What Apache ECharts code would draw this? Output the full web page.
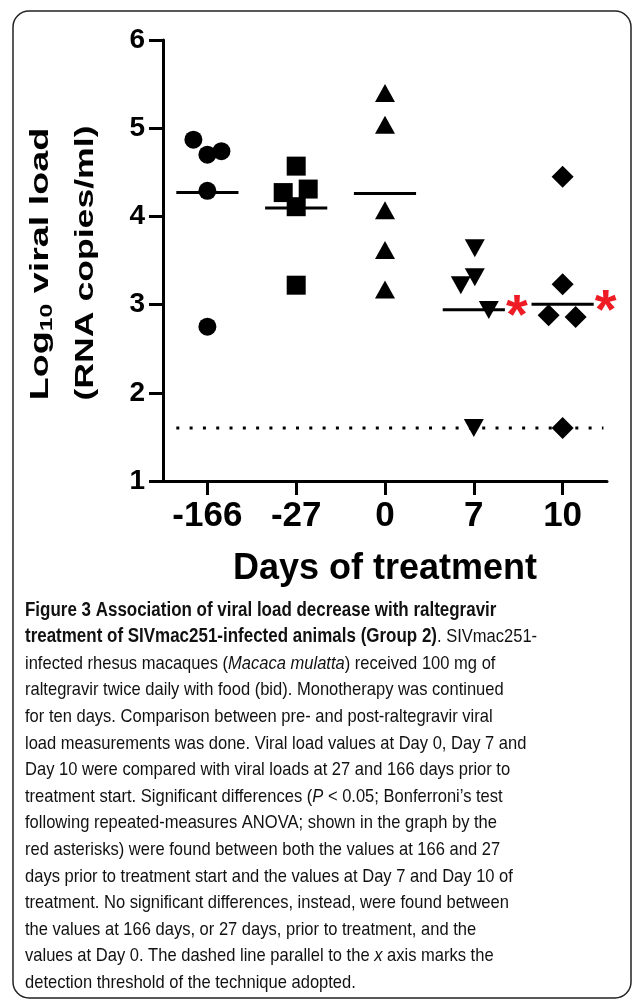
<!DOCTYPE html>
<html><head><meta charset="utf-8">
<script src="https://cdn.jsdelivr.net/npm/echarts@6/dist/echarts.min.js"></script>
<style>html,body{margin:0;padding:0;background:#fff}#c{width:633px;height:1001px}</style>
</head><body><div id="c"></div>
<script>
// ---- data ----
const categories = ['-166', '-27', '0', '7', '10'];
const dayMinus166 = [4.87, 4.70, 4.74, 4.29, 2.75];
const dayMinus27 = [4.57, 4.27, 4.31, 4.11, 3.22];
const day0 = [5.40, 5.04, 4.07, 3.62, 3.17];
const day7 = [3.64, 3.31, 3.22, 2.94, 1.60];
const day10 = [4.45, 3.23, 2.88, 2.86, 1.60];
const significant = [false, false, false, true, true];
const detectionThreshold = 1.6;
const yMin = 1, yMax = 6, yInterval = 1;

// ---- styling ----
const groups = [dayMinus166, dayMinus27, day0, day7, day10];
const jitterPx = [[-14, 0, 14, 0, 0], [0, -13, 12, 0, 0], [0, 0, 0, 0, 0], [1, 1, -13, 15, 0], [0, 0, -14, 13, 0]];
const symbols = ['circle', 'rect', 'triangle', 'triangle', 'diamond'];
const symbolRot = [0, 0, 0, 180, 0];
const symbolSizes = [18, 19, [20, 18], [20, 18], 22];
const ARIAL = "'Liberation Sans', Arial, Helvetica, sans-serif";

const means = groups.map(g => g.reduce((a, b) => a + b, 0) / g.length);

const scatterSeries = groups.map((g, gi) => ({
  type: 'scatter',
  name: categories[gi],
  symbol: symbols[gi],
  symbolRotate: symbolRot[gi],
  symbolSize: symbolSizes[gi],
  itemStyle: { color: '#000', opacity: 1 },
  z: 3,
  data: g.map((v, i) => ({ value: [gi, v], symbolOffset: [jitterPx[gi][i], 0] }))
}));

const meanSeries = {
  type: 'custom', z: 2,
  renderItem: (params, api) => {
    const p = api.coord([api.value(0), api.value(1)]);
    const half = api.size([1, 0])[0] * 0.35;
    return { type: 'line', shape: { x1: p[0] - half, y1: p[1], x2: p[0] + half, y2: p[1] },
      style: { stroke: '#000', lineWidth: 3 } };
  },
  data: means.map((m, i) => [i, m])
};

const starSeries = {
  type: 'custom', z: 4,
  renderItem: (params, api) => {
    const p = api.coord([api.value(0), api.value(1)]);
    const half = api.size([1, 0])[0] * 0.35;
    return { type: 'text', x: p[0] + half + 12, y: p[1] + 8,
      style: { text: '*', fill: '#ee1c25', fontSize: 56, fontWeight: 'bold', fontFamily: ARIAL,
        align: 'center', verticalAlign: 'middle' } };
  },
  data: means.map((m, i) => [i, m]).filter((d, i) => significant[i])
};

const thresholdSeries = {
  type: 'custom', z: 1,
  renderItem: (params, api) => {
    const p0 = api.coord([0, api.value(1)]);
    const pN = api.coord([categories.length - 1, api.value(1)]);
    const bw = api.size([1, 0])[0];
    return { type: 'line', shape: { x1: p0[0] - bw * 0.35, y1: p0[1], x2: pN[0] + bw * 0.46, y2: pN[1] },
      style: { stroke: '#000', lineWidth: 3, lineDash: [3, 10.3] } };
  },
  data: [[0, detectionThreshold]]
};

const captionLines = [
  '{b|Figure 3 Association of viral load decrease with raltegravir}',
  '{b|treatment of SIVmac251-infected animals (Group 2)}{r|. SIVmac251-}',
  '{r|infected rhesus macaques (}{i|Macaca mulatta}{r|) received 100 mg of}',
  '{r|raltegravir twice daily with food (bid). Monotherapy was continued}',
  '{r|for ten days. Comparison between pre- and post-raltegravir viral}',
  '{r|load measurements was done. Viral load values at Day 0, Day 7 and}',
  '{r|Day 10 were compared with viral loads at 27 and 166 days prior to}',
  '{r|treatment start. Significant differences (}{i|P}{r| < 0.05; Bonferroni\u2019s test}',
  '{r|following repeated-measures ANOVA; shown in the graph by the}',
  '{r|red asterisks) were found between both the values at 166 and 27}',
  '{r|days prior to treatment start and the values at Day 7 and Day 10 of}',
  '{r|treatment. No significant differences, instead, were found between}',
  '{r|the values at 166 days, or 27 days, prior to treatment, and the}',
  '{r|values at Day 0. The dashed line parallel to the }{i|x}{r| axis marks the}',
  '{r|detection threshold of the technique adopted.}'
];
const capLH = 26.6;
const capFont = { fontSize: 19, fontFamily: ARIAL, fill: '#111', lineHeight: capLH };

const chart = echarts.init(document.getElementById('c'), null, { renderer: 'canvas' });
chart.setOption({
  backgroundColor: '#fff',
  animation: false,
  grid: { left: 163, right: 26, top: 40, bottom: 520, containLabel: false, outerBoundsMode: 'none' },
  xAxis: {
    type: 'category', data: categories, boundaryGap: true,
    name: 'Days of treatment', nameLocation: 'middle', nameGap: 70,
    nameTextStyle: { fontSize: 36, fontWeight: 'bold', fontFamily: ARIAL, color: '#000' },
    axisLine: { show: true, lineStyle: { color: '#000', width: 3 } },
    axisTick: { show: true, alignWithLabel: true, length: 14, lineStyle: { color: '#000', width: 3 } },
    axisLabel: { interval: 0, hideOverlap: false, fontSize: 35, fontWeight: 'bold', fontFamily: ARIAL, color: '#000', margin: 18 },
    splitLine: { show: false }
  },
  yAxis: {
    type: 'value', min: yMin, max: yMax, interval: yInterval,
    axisLine: { show: true, lineStyle: { color: '#000', width: 3 } },
    axisTick: { show: true, length: 14, lineStyle: { color: '#000', width: 3 } },
    axisLabel: { fontSize: 28, fontWeight: 'bold', fontFamily: ARIAL, color: '#000', margin: 18 },
    splitLine: { show: false }
  },
  graphic: [
    { type: 'rect', shape: { x: 13, y: 11, width: 618, height: 987, r: 16 },
      style: { fill: 'none', stroke: '#222', lineWidth: 1.5 }, silent: true },
    { type: 'text', x: 41, y: 264, rotation: Math.PI / 2, scaleX: 1.45,
      style: { text: '{n|Log}{s|10}{n| viral load}', align: 'center', verticalAlign: 'middle',
        rich: {
          n: { fontSize: 26, fontWeight: 'bold', fontFamily: ARIAL, fill: '#000', lineHeight: 30 },
          s: { fontSize: 17, fontWeight: 'bold', fontFamily: ARIAL, fill: '#000', lineHeight: 20, verticalAlign: 'bottom' }
        } } },
    { type: 'text', x: 86, y: 263, rotation: Math.PI / 2, scaleX: 1.37,
      style: { text: '(RNA copies/ml)', align: 'center', verticalAlign: 'middle',
        fontSize: 26, fontWeight: 'bold', fontFamily: ARIAL, fill: '#000' } },
    { type: 'text', x: 25, y: 597, scaleX: 0.87,
      style: Object.assign({ text: captionLines.join('\n'), align: 'left', verticalAlign: 'top',
        rich: {
          r: Object.assign({}, capFont),
          b: Object.assign({}, capFont, { fontWeight: 'bold', fontSize: 19.5 }),
          i: Object.assign({}, capFont, { fontStyle: 'italic' })
        } }, capFont) }
  ],
  series: [thresholdSeries, meanSeries].concat(scatterSeries).concat([starSeries])
});
</script></body></html>
